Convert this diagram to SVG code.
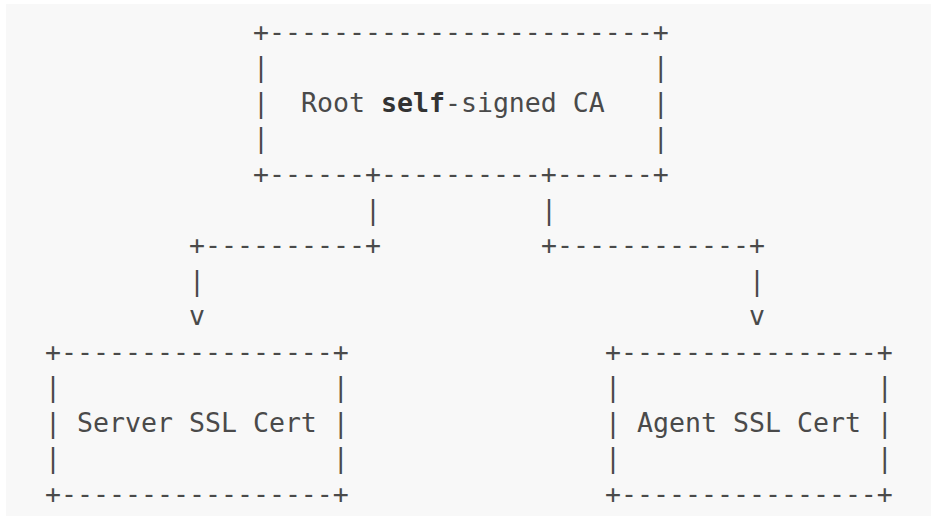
<svg xmlns="http://www.w3.org/2000/svg" width="931" height="516" viewBox="0 0 931 516" xml:space="preserve">
<style>
text{font-family:"DejaVu Sans Mono","Liberation Mono",monospace;font-size:26.57px;fill:#4a4a4a;white-space:pre}
.b{font-weight:bold;fill:#333}
</style>
<rect x="0" y="0" width="931" height="516" fill="#ffffff"/>
<rect x="6" y="4" width="925" height="512" fill="#f8f8f8"/>
<g id="root-ca">
<text x="253" y="40.7">+------------------------+</text>
<text x="253" y="76.3">|                        |</text>
<text x="253" y="111.8">|  Root <tspan class="b">self</tspan>-signed CA   |</text>
<text x="253" y="147.4">|                        |</text>
<text x="253" y="182.9">+------+----------+------+</text>
</g>
<g id="connectors">
<text x="365" y="218.5">|</text>
<text x="541" y="218.5">|</text>
<text x="189" y="254.1">+----------+</text>
<text x="541" y="254.1">+------------+</text>
<text x="189" y="289.6">|</text>
<text x="749" y="289.6">|</text>
<text x="189" y="325.2">v</text>
<text x="749" y="325.2">v</text>
</g>
<g id="server-ssl-cert">
<text x="45" y="360.7">+-----------------+</text>
<text x="45" y="396.3">|                 |</text>
<text x="45" y="431.9">| Server SSL Cert |</text>
<text x="45" y="467.4">|                 |</text>
<text x="45" y="503">+-----------------+</text>
</g>
<g id="agent-ssl-cert">
<text x="605" y="360.7">+----------------+</text>
<text x="605" y="396.3">|                |</text>
<text x="605" y="431.9">| Agent SSL Cert |</text>
<text x="605" y="467.4">|                |</text>
<text x="605" y="503">+----------------+</text>
</g>
</svg>
